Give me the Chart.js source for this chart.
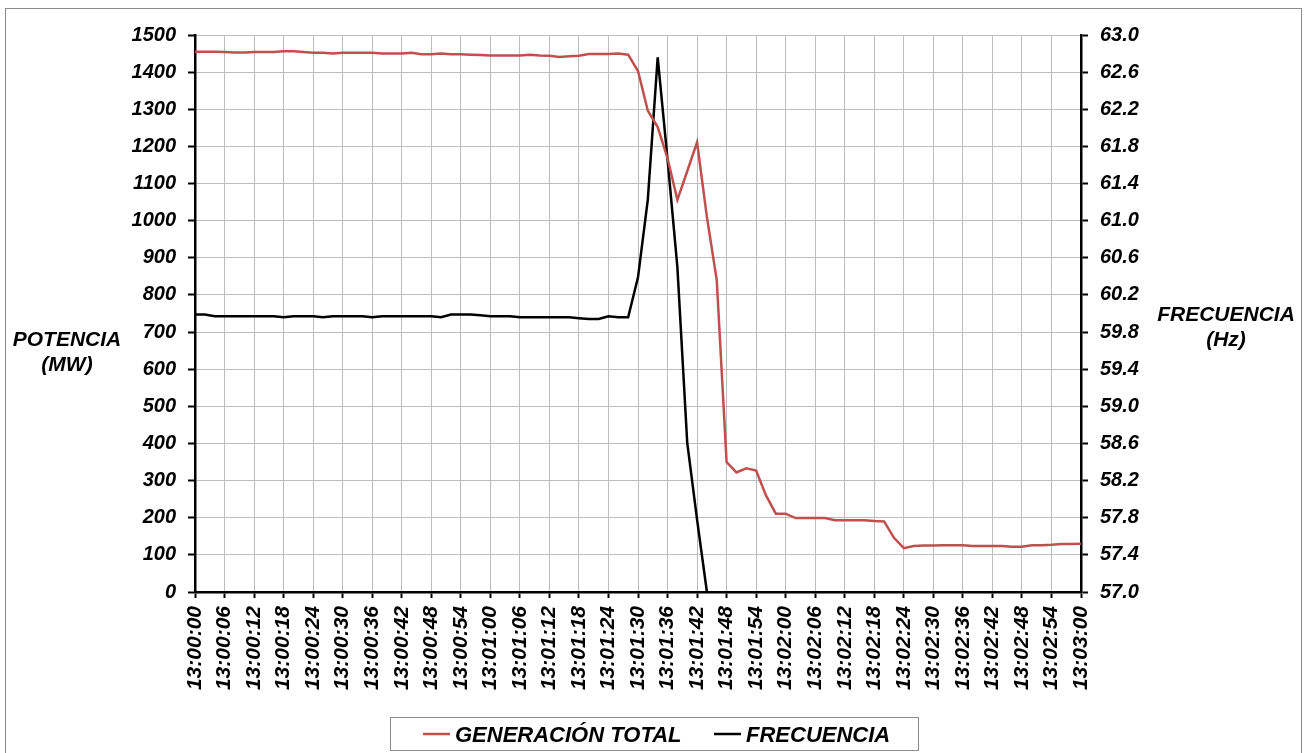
<!DOCTYPE html>
<html>
<head>
<meta charset="utf-8">
<script src="https://cdn.jsdelivr.net/npm/chart.js@4.4.0/dist/chart.umd.min.js"></script>
<style>
html,body{margin:0;padding:0;background:#fff;}
#wrap{position:relative;width:1304px;height:753px;}
</style>
</head>
<body>
<div id="wrap"><canvas id="c"></canvas></div>
<script>
// ---------- DATA ----------
const categories = [
 "13:00:00","13:00:02","13:00:04","13:00:06","13:00:08","13:00:10","13:00:12","13:00:14","13:00:16","13:00:18",
 "13:00:20","13:00:22","13:00:24","13:00:26","13:00:28","13:00:30","13:00:32","13:00:34","13:00:36","13:00:38",
 "13:00:40","13:00:42","13:00:44","13:00:46","13:00:48","13:00:50","13:00:52","13:00:54","13:00:56","13:00:58",
 "13:01:00","13:01:02","13:01:04","13:01:06","13:01:08","13:01:10","13:01:12","13:01:14","13:01:16","13:01:18",
 "13:01:20","13:01:22","13:01:24","13:01:26","13:01:28","13:01:30","13:01:32","13:01:34","13:01:36","13:01:38",
 "13:01:40","13:01:42","13:01:44","13:01:46","13:01:48","13:01:50","13:01:52","13:01:54","13:01:56","13:01:58",
 "13:02:00","13:02:02","13:02:04","13:02:06","13:02:08","13:02:10","13:02:12","13:02:14","13:02:16","13:02:18",
 "13:02:20","13:02:22","13:02:24","13:02:26","13:02:28","13:02:30","13:02:32","13:02:34","13:02:36","13:02:38",
 "13:02:40","13:02:42","13:02:44","13:02:46","13:02:48","13:02:50","13:02:52","13:02:54","13:02:56","13:02:58",
 "13:03:00"
];

const xTickLabels = [
 "13:00:00","13:00:06","13:00:12","13:00:18","13:00:24","13:00:30","13:00:36","13:00:42","13:00:48","13:00:54",
 "13:01:00","13:01:06","13:01:12","13:01:18","13:01:24","13:01:30","13:01:36","13:01:42","13:01:48","13:01:54",
 "13:02:00","13:02:06","13:02:12","13:02:18","13:02:24","13:02:30","13:02:36","13:02:42","13:02:48","13:02:54",
 "13:03:00"
];

// GENERACIÓN TOTAL (MW)
const generacionTotal = [
 1455,1455,1455,1454,1453,1453,1454,1454,1454,1456,
 1456,1454,1452,1452,1450,1452,1452,1452,1452,1450,
 1450,1450,1452,1448,1448,1450,1448,1448,1447,1446,
 1445,1445,1445,1445,1447,1445,1444,1441,1443,1444,
 1449,1449,1449,1450,1447,1403,1296,1252,1168,1056,
 1133,1211,1010,840,350,322,333,327,260,211,
 211,199,199,199,199,193,193,193,193,191,
 190,146,118,124,125,125,126,126,126,124,
 124,124,124,122,122,126,126,127,129,129,
 130
];

// FRECUENCIA (Hz)
const frecuencia = [
 59.99,59.99,59.97,59.97,59.97,59.97,59.97,59.97,59.97,59.96,
 59.97,59.97,59.97,59.96,59.97,59.97,59.97,59.97,59.96,59.97,
 59.97,59.97,59.97,59.97,59.97,59.96,59.99,59.99,59.99,59.98,
 59.97,59.97,59.97,59.96,59.96,59.96,59.96,59.96,59.96,59.95,
 59.94,59.94,59.97,59.96,59.96,60.39,61.23,62.76,61.66,60.50,
 58.61,57.78,57.00
];

const seriesNames = ["GENERACIÓN TOTAL", "FRECUENCIA"];
const seriesColors = ["#c0504d", "#000000"];
const leftTitle = ["POTENCIA", "(MW)"];
const rightTitle = ["FRECUENCIA", "(Hz)"];
const potenciaRange = [0, 1500, 100];
const frecuenciaRange = [57.0, 63.0, 0.4];

// ---------- CHART ----------
const FONT = "'Liberation Sans', Arial, sans-serif";
const tickFont = {family: FONT, size: 20, weight: 'bold', style: 'italic'};
const xFont = {family: FONT, size: 21, weight: 'bold', style: 'italic'};

const decor = {
  id: 'decor',
  beforeDraw(chart) {
    const ctx = chart.ctx;
    ctx.save();
    ctx.fillStyle = '#fff';
    ctx.fillRect(0, 0, chart.width, chart.height);
    ctx.strokeStyle = '#8c8c8c';
    ctx.lineWidth = 1;
    ctx.strokeRect(5.5, 8.5, 1296, 800);
    ctx.restore();
  },
  afterDraw(chart) {
    const ctx = chart.ctx;
    ctx.save();
    ctx.fillStyle = '#000';
    ctx.font = "italic bold 21px " + FONT;
    ctx.textAlign = 'center';
    ctx.textBaseline = 'alphabetic';
    ctx.fillText(leftTitle[0], 67, 346);
    ctx.fillText(leftTitle[1], 67, 371);
    ctx.fillText(rightTitle[0], 1226, 321);
    ctx.fillText(rightTitle[1], 1226, 346);

    // legend
    ctx.strokeStyle = '#8c8c8c';
    ctx.lineWidth = 1;
    ctx.strokeRect(390.5, 717.5, 528, 33);
    const xs = [423, 714];
    ctx.textAlign = 'left';
    ctx.font = "italic bold 22px " + FONT;
    chart.data.datasets.forEach((ds, i) => {
      ctx.strokeStyle = ds.borderColor;
      ctx.lineWidth = 2.5;
      ctx.beginPath();
      ctx.moveTo(xs[i], 734);
      ctx.lineTo(xs[i] + 27, 734);
      ctx.stroke();
      ctx.fillStyle = '#000';
      ctx.fillText(ds.label, xs[i] + 32, 742);
    });
    ctx.restore();
  }
};

new Chart(document.getElementById('c'), {
  type: 'line',
  data: {
    labels: categories,
    datasets: [
      {label: seriesNames[0], data: generacionTotal, yAxisID: 'y', borderColor: seriesColors[0],
       borderWidth: 2.5, pointRadius: 0, tension: 0, fill: false},
      {label: seriesNames[1], data: frecuencia, yAxisID: 'y1', borderColor: seriesColors[1],
       borderWidth: 2.5, pointRadius: 0, tension: 0, fill: false}
    ]
  },
  options: {
    responsive: true,
    maintainAspectRatio: false,
    animation: false,
    layout: {padding: {top: 35, left: 0, right: 0, bottom: 0}},
    plugins: {legend: {display: false}, tooltip: {enabled: false}},
    scales: {
      x: {
        afterFit(s) { s.height = 161; },
        border: {display: true, color: '#000', width: 2.5},
        grid: {
          color: c => xTickLabels.includes(categories[c.index]) ? '#bdbdbd' : 'rgba(0,0,0,0)',
          tickColor: c => xTickLabels.includes(categories[c.index]) ? '#000' : 'rgba(0,0,0,0)',
          lineWidth: 1, tickWidth: 2, tickLength: 6
        },
        ticks: {
          autoSkip: false, minRotation: 90, maxRotation: 90, padding: 8,
          color: '#000', font: xFont,
          callback: function(v, i) { const l = categories[i]; return xTickLabels.includes(l) ? l : ''; }
        }
      },
      y: {
        position: 'left',
        min: potenciaRange[0], max: potenciaRange[1],
        afterFit(s) { s.width = 195; },
        border: {display: true, color: '#000', width: 2.5},
        grid: {color: '#bdbdbd', lineWidth: 1, tickColor: '#000', tickWidth: 2, tickLength: 7},
        ticks: {stepSize: potenciaRange[2], padding: 12, color: '#000', font: tickFont,
                callback: v => String(v)}
      },
      y1: {
        position: 'right',
        min: frecuenciaRange[0], max: frecuenciaRange[1],
        afterFit(s) { s.width = 223; },
        border: {display: true, color: '#000', width: 2.5},
        grid: {drawOnChartArea: false, tickColor: '#000', tickWidth: 2, tickLength: 7},
        ticks: {stepSize: frecuenciaRange[2], padding: 12, color: '#000', font: tickFont,
                callback: v => Number(v).toFixed(1)}
      }
    }
  },
  plugins: [decor]
});
</script>
</body>
</html>
